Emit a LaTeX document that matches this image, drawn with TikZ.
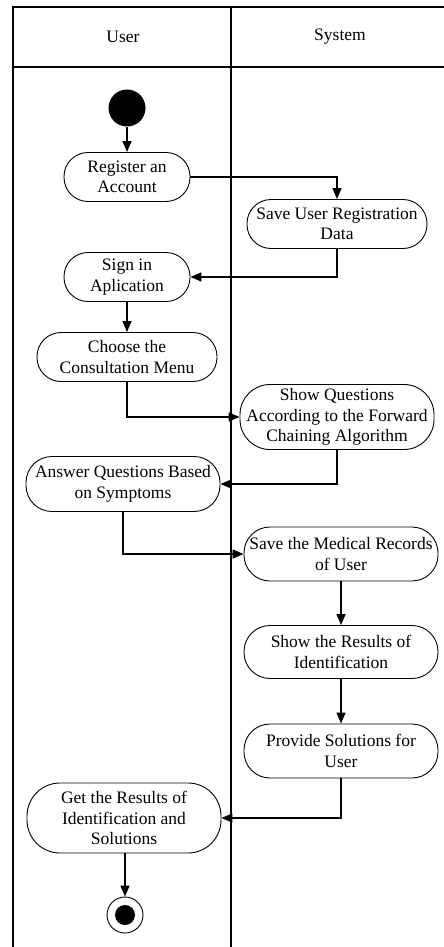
\documentclass[tikz,border=0pt]{standalone}
\usepackage{fontspec}
\setmainfont{Liberation Serif}
\usetikzlibrary{arrows.meta}
\begin{document}
\begin{tikzpicture}[x=1pt,y=-1pt,
  act/.style={draw,line width=0.9pt,rounded corners=24pt,align=center,inner sep=0pt,
    font=\fontsize{17.5}{20.5}\selectfont},
  flow/.style={line width=1.4pt,-{Triangle[length=11pt,width=9pt]}},
  frame/.style={line width=1.1pt}]
\useasboundingbox (0,0) rectangle (444,947);
% swimlanes
\draw[frame] (13,947) -- (13,7) -- (444,7);
\draw[frame] (13,67) -- (444,67);
\draw[frame] (231,7) -- (231,947);
\node[font=\fontsize{17.5}{20}\selectfont] (huser) at (123,37) {User};
\node[font=\fontsize{17.5}{20}\selectfont] (hsys) at (340,37) {System};
% nodes
\node[circle,fill=black,minimum size=37pt,inner sep=0pt] (start) at (127,108) {};
\node[act,minimum width=126pt,minimum height=49pt] (reg) at (127,177) {Register an\\Account};
\node[act,minimum width=180pt,minimum height=49pt] (save) at (337,224) {Save User Registration\\Data};
\node[act,minimum width=126pt,minimum height=49pt] (sign) at (127,277) {Sign in\\Aplication};
\node[act,minimum width=180pt,minimum height=49pt] (choose) at (127,357) {Choose the\\Consultation Menu};
\node[act,minimum width=194pt,minimum height=65pt,rounded corners=30pt] (showq) at (337,417) {Show Questions\\According to the Forward\\Chaining Algorithm};
\node[act,minimum width=194pt,minimum height=55pt,rounded corners=26pt] (answer) at (123,484) {Answer Questions Based\\on Symptoms};
\node[act,minimum width=194pt,minimum height=54pt,rounded corners=26pt] (savemed) at (341,554) {Save the Medical Records\\of User};
\node[act,minimum width=194pt,minimum height=53pt,rounded corners=26pt] (showr) at (341,652) {Show the Results of\\Identification};
\node[act,minimum width=194pt,minimum height=54pt,rounded corners=26pt] (prov) at (341,751) {Provide Solutions for\\User};
\node[act,minimum width=194pt,minimum height=70pt,rounded corners=33pt] (get) at (124,818) {Get the Results of\\Identification and\\Solutions};
\node[circle,draw,line width=0.9pt,minimum size=36pt,inner sep=0pt] (end) at (125,915) {};
\node[circle,fill=black,minimum size=20pt,inner sep=0pt] (endin) at (end.center) {};
% flows
\draw[flow] (start) -- (reg);
\draw[flow] (reg.east) -| (save.north);
\draw[flow] (save.south) |- (sign.east);
\draw[flow] (sign) -- (choose);
\draw[flow] (choose.south) |- (showq.west);
\draw[flow] (showq.south) |- (answer.east);
\draw[flow] (answer.south) |- (savemed.west);
\draw[flow] (savemed) -- (showr);
\draw[flow] (showr) -- (prov);
\draw[flow] (prov.south) |- (get.east);
\draw[flow] (get.south -| end.north) -- (end.north);
\end{tikzpicture}
\end{document}
